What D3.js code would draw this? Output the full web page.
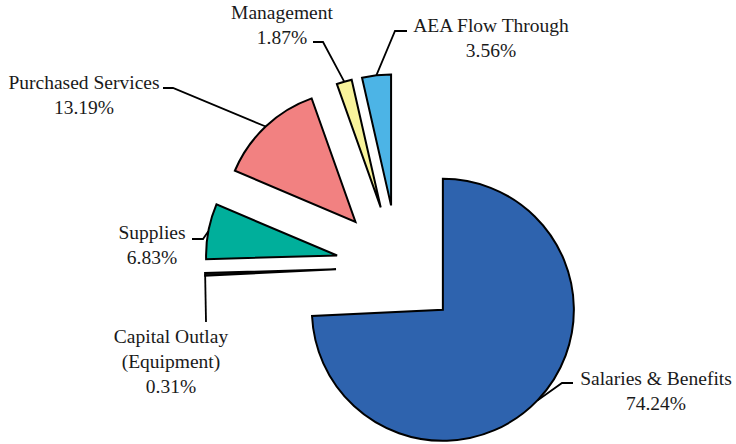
<!DOCTYPE html>
<html>
<head>
<meta charset="utf-8">
<script src="https://cdn.jsdelivr.net/npm/d3@7"></script>
<style>
  body { margin: 0; background: #fff; }
  text { font-family: "Liberation Serif", "Times New Roman", serif; font-size: 19.5px; fill: #1a1a1a; }
</style>
</head>
<body>
<div id="chart"></div>
<script>
// data, clockwise from 12 o'clock
const categories = ["Salaries & Benefits", "Capital Outlay (Equipment)", "Supplies", "Purchased Services", "Management", "AEA Flow Through"];
const shares = [74.24, 0.31, 6.83, 13.19, 1.87, 3.56];
const labelLines = [
  ["Salaries & Benefits"],
  ["Capital Outlay", "(Equipment)"],
  ["Supplies"],
  ["Purchased Services"],
  ["Management"],
  ["AEA Flow Through"]
];
const colors = ["#2e63ae", "#2b2b2b", "#00af9b", "#f28181", "#f8f39b", "#4cb4e6"];

// label layout: text centre, first baseline, leader elbow and end, line the leader hooks to
const labelPos = [
  { x: 656, y: 385, elbow: [562, 383], end: [573, 383] },
  { x: 171, y: 343, elbow: [206, 322], end: [206, 322] },
  { x: 152, y: 239, elbow: [203, 239], end: [192, 239] },
  { x: 84,  y: 89,  elbow: [173, 88],  end: [163, 88] },
  { x: 282, y: 19,  elbow: [323, 42],  end: [313, 42] },
  { x: 491, y: 32,  elbow: [395, 31],  end: [407, 31] }
];

const width = 736, height = 444;
const cx = 398, cy = 267, radius = 131, explode = 62, lineGap = 25;

const svg = d3.select("#chart").append("svg")
  .attr("width", width)
  .attr("height", height);

const pie = d3.pie().sort(null).value(d => d)(shares);
const arc = d3.arc().innerRadius(0).outerRadius(radius);

const g = svg.append("g").attr("transform", `translate(${cx},${cy})`);

const offset = d => {
  const a = (d.startAngle + d.endAngle) / 2;
  return [Math.sin(a) * explode, -Math.cos(a) * explode];
};

g.selectAll("path.slice")
  .data(pie)
  .enter().append("path")
  .attr("class", "slice")
  .attr("transform", d => `translate(${offset(d)})`)
  .attr("d", arc)
  .attr("fill", (d, i) => colors[i])
  .attr("stroke", "#000")
  .attr("stroke-width", 2)
  .attr("stroke-linejoin", "miter");

// leaders: from mid of outer arc to the label elbow
pie.forEach((d, i) => {
  const a = (d.startAngle + d.endAngle) / 2;
  const o = offset(d);
  const p0 = [cx + o[0] + Math.sin(a) * radius, cy + o[1] - Math.cos(a) * radius];
  const lp = labelPos[i];
  svg.append("polyline")
    .attr("points", [p0, lp.elbow, lp.end].map(p => p.join(",")).join(" "))
    .attr("fill", "none")
    .attr("stroke", "#000")
    .attr("stroke-width", 1.8);

  const t = svg.append("text")
    .attr("text-anchor", "middle")
    .attr("x", lp.x)
    .attr("y", lp.y);
  const lines = labelLines[i].concat([shares[i].toFixed(2) + "%"]);
  lines.forEach((s, j) => {
    t.append("tspan")
      .attr("x", lp.x)
      .attr("y", lp.y + j * lineGap)
      .text(s);
  });
});
</script>
</body>
</html>
